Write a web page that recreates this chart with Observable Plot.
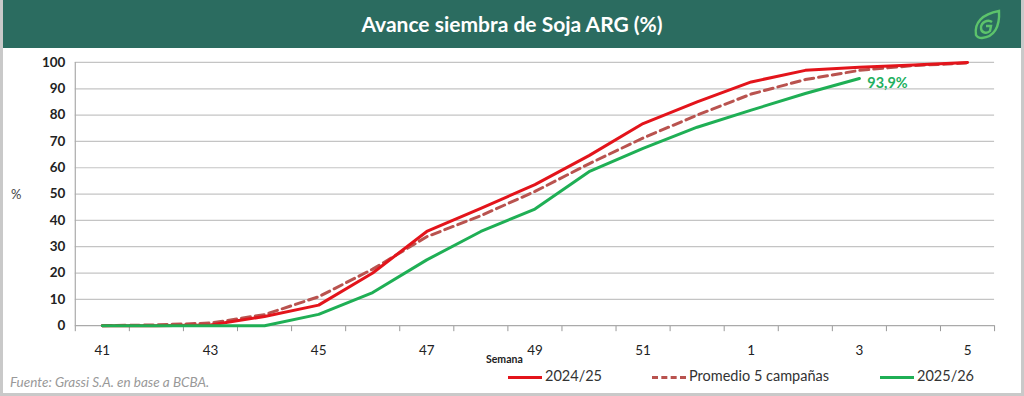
<!DOCTYPE html>
<html><head><meta charset="utf-8">
<script src="https://cdn.jsdelivr.net/npm/d3@7"></script>
<script src="https://cdn.jsdelivr.net/npm/@observablehq/plot@0.6"></script>
<style>
body{margin:0;background:#fff;font-family:Lato,"Open Sans",sans-serif;}
#wrap{position:relative;width:1024px;height:396px;box-sizing:border-box;border:3px solid #c9c9c9;border-top:none;overflow:hidden;}
#hdr{position:absolute;left:-3px;top:0;width:1024px;height:48px;background:#2b6c60;color:#fff;font-weight:bold;font-size:21px;text-align:center;line-height:48px;}
#logo{position:absolute;right:22px;top:9px;}
#chart{position:absolute;left:-3px;top:50px;}
.abs{position:absolute;white-space:nowrap;}
.leg{font-size:14.5px;color:#333;}
.sw{display:inline-block;width:34px;height:0;vertical-align:middle;margin-right:3px;}
</style></head>
<body><div id="wrap">
<div id="hdr">Avance siembra de Soja ARG (%)
<svg id="logo" width="30" height="32" viewBox="0 0 30 32"><path d="M4 26 C2 14 10 5 27 2 C28 18 22 28 10 29 C7 29 5 28 4 26 Z" fill="none" stroke="#5cc36b" stroke-width="2.4"/><path d="M20 13 C16 10 9 13 9 19 C9 24 15 25 18 22 L19 17 L14 17" fill="none" stroke="#5cc36b" stroke-width="2.4"/></svg>
</div>
<div id="chart"></div>
<div class="abs" style="left:8px;top:186px;font-size:13px;color:#444;">%</div>
<div class="abs" style="left:483px;top:353px;font-size:10.5px;font-weight:bold;color:#222;">Semana</div>
<div class="abs" style="left:7px;top:374px;font-size:13.5px;font-style:italic;color:#999;">Fuente: Grassi S.A. en base a BCBA.</div>
<div class="abs leg" style="left:505px;top:367px;"><span class="sw" style="border-top:3px solid #e3141b"></span>2024/25</div>
<div class="abs leg" style="left:649px;top:367px;"><span class="sw" style="border-top:3px dashed #b9534f"></span>Promedio 5 campañas</div>
<div class="abs leg" style="left:877px;top:367px;"><span class="sw" style="border-top:3px solid #1faf55"></span>2025/26</div>
</div>
<script>
const weeks = ["41","42","43","44","45","46","47","48","49","50","51","52","1","2","3","4","5"];
const s2024 = [0,0,0.3,3.5,7.8,20,35.8,44.6,53.6,64.6,76.8,85,92.6,97,98.2,99,100];
const sAvg  = [0,0.3,1,4.2,11,21.5,33.8,41.8,51,61.5,71.3,80,88,93.5,97,98.8,99.8];
const s2025 = [0,0,0,0,4.3,12.6,25,35.8,44.3,58.5,67.4,75.4,81.9,88.2,93.9];
const yTicks = [0,10,20,30,40,50,60,70,80,90,100];
const labelIdx = [0,2,4,6,8,10,12,14,16];
const bounds = d3.range(-0.5, 17, 1);

const toRows = arr => arr.map((v,i)=>({i, v}));
const r2024 = toRows(s2024), rAvg = toRows(sAvg), r2025 = toRows(s2025);
const last = r2025[r2025.length-1];

const chart = Plot.plot({
  width:1024, height:346,
  marginLeft:75, marginRight:27, marginTop:12, marginBottom:70,
  style:{fontFamily:"Lato, 'Open Sans', sans-serif", color:"#222", background:"transparent"},
  x:{type:"linear", domain:[-0.5,16.5]},
  y:{domain:[0,100]},
  marks:[
    Plot.gridY(yTicks.slice(1), {stroke:"#c4c4c4", strokeOpacity:1, strokeWidth:1.2}),
    Plot.axisY(yTicks, {tickSize:0, tickPadding:10, fontWeight:"bold", fontSize:13.5, label:null}),
    Plot.axisX(bounds, {tickSize:6, stroke:"#999", tickFormat:()=>"", label:null}),
    Plot.axisX(labelIdx, {tickSize:0, tickPadding:20, fontSize:13.5, tickFormat:i=>weeks[i], label:null}),
    Plot.ruleX([-0.5], {stroke:"#aaa", strokeWidth:1.2}),
    Plot.ruleY([0], {stroke:"#aaa", strokeWidth:1.2}),
    Plot.line(rAvg, {x:"i", y:"v", stroke:"#b9534f", strokeWidth:3, strokeDasharray:"9,5"}),
    Plot.line(r2024, {x:"i", y:"v", stroke:"#e3141b", strokeWidth:3}),
    Plot.line(r2025, {x:"i", y:"v", stroke:"#1faf55", strokeWidth:3}),
    Plot.text([last], {x:"i", y:"v", text:()=>"93,9%", dx:8, dy:5, textAnchor:"start", fill:"#22b060", fontWeight:"bold", fontSize:14.5})
  ]
});
document.getElementById("chart").appendChild(chart);
</script>
</body></html>
